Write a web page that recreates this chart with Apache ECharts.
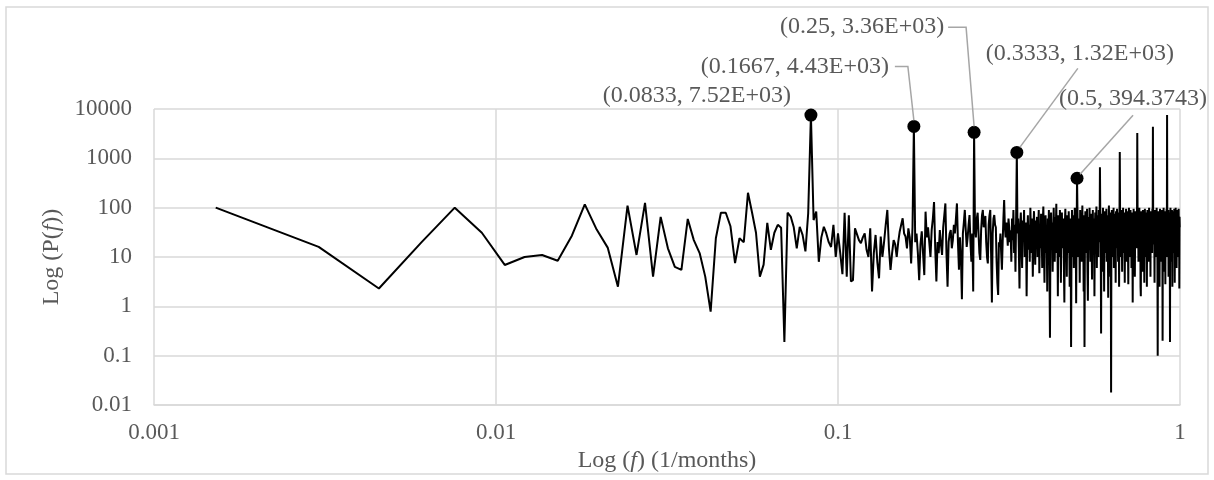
<!DOCTYPE html>
<html>
<head>
<meta charset="utf-8">
<style>
  html, body { margin: 0; padding: 0; background: #fff; }
  #chart { width: 1214px; height: 480px; }
</style>
<script src="https://cdn.jsdelivr.net/npm/echarts/dist/echarts.min.js"></script>
</head>
<body>
<div id="chart"></div>
<script>
// periodogram, f = k / N (1/months), k = 1 .. N-1
const N = 660;
const power = [
  // k 1-10
  100, 16, 2.3, 20, 100, 31, 6.9, 10, 11, 8.4,
  27, 117, 36, 15.5, 2.5, 110, 11, 125, 4, 65,
  15, 6.3, 5.5, 59, 22, 12, 4, 0.78, 24, 79,
  79, 42, 7.5, 24, 20, 200, 80, 31, 4, 7,
  49, 14, 31, 45, 39, 0.19, 79, 66, 40, 15,
  // k 51-100
  41, 28, 13, 77, 7520, 56, 83, 8, 25, 41,
  30, 20, 16, 45, 10, 30, 12, 4.5, 79, 4,
  70, 3.2, 3.4, 38, 35, 22, 19, 25, 30, 14,
  10, 38, 2.0, 12, 28, 8, 3.7, 26, 10, 20,
  45, 90, 15, 5.5, 12, 22, 18, 10, 20, 33,
  // k 101-150
  45, 61, 30, 26, 15, 38, 25, 7.4, 40, 4430,
  20, 30, 12, 3.4, 18, 33, 12, 4.3, 83, 25,
  40, 20, 10, 35, 60, 130, 15, 3.2, 20, 12,
  35, 18, 11, 40, 70, 122, 12, 2.5, 20, 30,
  35, 15, 22, 45, 30, 60, 122, 20, 5.5, 25,
  // k 151-200
  10, 1.4, 30, 50, 90, 35, 16, 25, 45, 71,
  20, 8, 30, 2.0, 3360, 40, 25, 60, 79, 30,
  12, 8.7, 35, 70, 90, 40, 50, 68, 20, 10,
  7.4, 45, 70, 90, 12, 1.2, 30, 60, 71, 45,
  40, 8, 3, 1.7, 20, 16, 30, 12, 5.5, 20,
  // k 201-250
  60, 143, 40, 25, 50, 30, 17, 60, 40, 20,
  35, 8, 60, 22, 90, 12, 45, 5, 70, 1320,
  30, 60, 15, 2.3, 40, 80, 20, 6, 55, 25,
  90, 10, 35, 50, 1.6, 28, 70, 14, 45, 8,
  100, 30, 12, 60, 4, 40, 85, 18, 7, 55,
  // k 251-300
  25, 65, 10, 38, 90, 4.7, 30, 15, 75, 40,
  6, 50, 105, 20, 3, 45, 70, 12, 35, 2,
  60, 25, 90, 9, 0.23, 40, 80, 15, 50, 5,
  30, 100, 20, 8, 65, 35, 120, 12, 45, 1.6,
  70, 25, 10, 90, 40, 3, 55, 80, 15, 30,
  // k 301-350
  60, 7, 1.2, 45, 95, 20, 35, 4, 70, 50,
  12, 85, 30, 2.5, 60, 40, 0.15, 25, 90, 10,
  45, 70, 6, 35, 100, 18, 50, 1.15, 30, 394.3743,
  80, 25, 10, 60, 40, 3, 90, 20, 55, 8,
  35, 110, 15, 45, 2, 70, 0.15, 30, 85, 12,
  // k 351-400
  50, 25, 95, 5, 1.3, 40, 65, 18, 100, 30,
  8, 55, 75, 20, 3.5, 45, 90, 12, 35, 60,
  1.6, 30, 80, 15, 50, 105, 6, 40, 70, 25,
  10, 90, 45, 20, 660, 60, 30, 0.28, 75, 40,
  5, 55, 100, 18, 35, 2, 65, 85, 12, 45,
  // k 401-450
  30, 95, 8, 50, 70, 22, 1.5, 40, 110, 15,
  60, 30, 4, 80, 0.018, 45, 90, 25, 10, 65,
  35, 100, 6, 50, 75, 20, 40, 3, 85, 55,
  15, 95, 30, 60, 8, 45, 80, 2.5, 35, 1350,
  70, 20, 50, 10, 90, 40, 5, 65, 30, 100,
  // k 451-500
  12, 55, 80, 25, 3, 45, 70, 18, 95, 35,
  8, 60, 40, 85, 15, 2.8, 50, 100, 25, 40,
  70, 10, 90, 35, 55, 6, 45, 80, 20, 1.2,
  65, 30, 95, 12, 50, 75, 4, 40, 85, 25,
  55, 15, 70, 35, 3260, 90, 20, 45, 8, 60,
  // k 501-550
  30, 100, 12, 50, 75, 2.5, 1.6, 40, 85, 20,
  60, 35, 5, 90, 45, 15, 70, 30, 3, 55,
  95, 25, 40, 80, 10, 50, 65, 2.5, 35, 90,
  20, 55, 75, 8, 45, 100, 30, 15, 60, 40,
  4, 85, 35, 50, 20, 70, 12, 95, 30, 4370,
  // k 551-600
  45, 65, 18, 80, 35, 3, 55, 90, 25, 40,
  10, 75, 50, 100, 20, 45, 6, 0.1, 60, 85,
  30, 15, 70, 40, 2.5, 55, 95, 25, 45, 8,
  80, 35, 60, 12, 90, 50, 0.2, 40, 70, 20,
  100, 30, 5, 55, 75, 15, 45, 2.8, 85, 60,
  // k 601-659
  25, 40, 95, 10, 7560, 50, 70, 20, 35, 90,
  4, 60, 45, 80, 15, 30, 0.19, 55, 100, 25,
  40, 70, 8, 50, 90, 35, 2.5, 65, 45, 20,
  85, 30, 55, 12, 95, 40, 3, 70, 50, 25,
  100, 15, 45, 80, 6, 35, 60, 90, 20, 40,
  75, 10, 55, 95, 30, 45, 2.3, 65, 40
];

const xTicks = [0.001, 0.01, 0.1, 1];
const yTicks = [0.01, 0.1, 1, 10, 100, 1000, 10000];

// labelled peaks (k index) and their texts
const peakK = [55, 110, 165, 220, 330];
const peakText = ['(0.0833, 7.52E+03)', '(0.1667, 4.43E+03)', '(0.25, 3.36E+03)',
                  '(0.3333, 1.32E+03)', '(0.5, 394.3743)'];

// label placement relative to the marker (px) and leader line bends
const labelPos = [
  { dx: -114, dy: -19, line: null },
  { dx: -119, dy: -60, line: [[-19, -60], [-6, -60], [0, -6]] },
  { dx: -112, dy: -106, line: [[-26, -105], [-8, -105], [0, -6]] },
  { dx: 63, dy: -99, line: [[61, -84], [3, -5]] },
  { dx: 56, dy: -80, line: [[56, -63], [3, -4]] }
];

const font = '"Liberation Serif", "Times New Roman", serif';
const textColor = '#595959';
const gridColor = '#d9d9d9';

const lineData = power.map((v, i) => [(i + 1) / N, v]);
const peakData = peakK.map(k => [k / N, power[k - 1]]);

const chart = echarts.init(document.getElementById('chart'));
const option = {
  animation: false,
  backgroundColor: '#fff',
  grid: { left: 154, right: 34, top: 109, bottom: 75 },
  xAxis: {
    type: 'log', logBase: 10, min: xTicks[0], max: xTicks[xTicks.length - 1],
    name: '{n|Log (}{i|f}{n|) (1/months)}',
    nameLocation: 'middle', nameGap: 44,
    nameTextStyle: {
      rich: {
        n: { fontFamily: font, fontSize: 24, color: textColor },
        i: { fontFamily: font, fontSize: 24, color: textColor, fontStyle: 'italic' }
      }
    },
    axisLine: { show: true, lineStyle: { color: gridColor, width: 1.5 } },
    axisTick: { show: false },
    axisLabel: { fontFamily: font, fontSize: 23, color: textColor, margin: 16,
                 formatter: v => String(v) },
    splitLine: { show: true, lineStyle: { color: gridColor, width: 1.5 } }
  },
  yAxis: {
    type: 'log', logBase: 10, min: yTicks[0], max: yTicks[yTicks.length - 1],
    name: '{n|Log (P(}{i|f}{n|))}',
    nameLocation: 'middle', nameGap: 90, nameRotate: 90,
    nameTextStyle: {
      rich: {
        n: { fontFamily: font, fontSize: 24, color: textColor },
        i: { fontFamily: font, fontSize: 24, color: textColor, fontStyle: 'italic' }
      }
    },
    axisLine: { show: false },
    axisTick: { show: false },
    axisLabel: { fontFamily: font, fontSize: 23, color: textColor, margin: 22,
                 formatter: v => String(v) },
    splitLine: { show: true, lineStyle: { color: gridColor, width: 1.5 } }
  },
  series: [
    {
      type: 'line',
      data: lineData,
      showSymbol: false,
      lineStyle: { color: '#000', width: 2 },
      z: 2
    },
    {
      type: 'scatter',
      data: peakData,
      symbolSize: 13,
      itemStyle: { color: '#000', opacity: 1 },
      z: 3
    }
  ]
};
chart.setOption(option);

// annotations placed from the data points through the axes
const graphics = [{
  type: 'rect',
  shape: { x: 6, y: 7, width: 1202, height: 467 },
  style: { fill: null, stroke: gridColor, lineWidth: 1.5 },
  silent: true
}];
peakData.forEach((p, i) => {
  const px = chart.convertToPixel({ xAxisIndex: 0, yAxisIndex: 0 }, p);
  const pos = labelPos[i];
  graphics.push({
    type: 'text',
    style: {
      text: peakText[i], x: px[0] + pos.dx, y: px[1] + pos.dy,
      font: '24px ' + font, fill: textColor,
      textAlign: 'center', textVerticalAlign: 'middle'
    },
    z: 10
  });
  if (pos.line) {
    graphics.push({
      type: 'polyline',
      shape: { points: pos.line.map(d => [px[0] + d[0], px[1] + d[1]]) },
      style: { stroke: '#a6a6a6', lineWidth: 1.5, fill: null },
      z: 9
    });
  }
});
chart.setOption({ graphic: graphics });
</script>
</body>
</html>
